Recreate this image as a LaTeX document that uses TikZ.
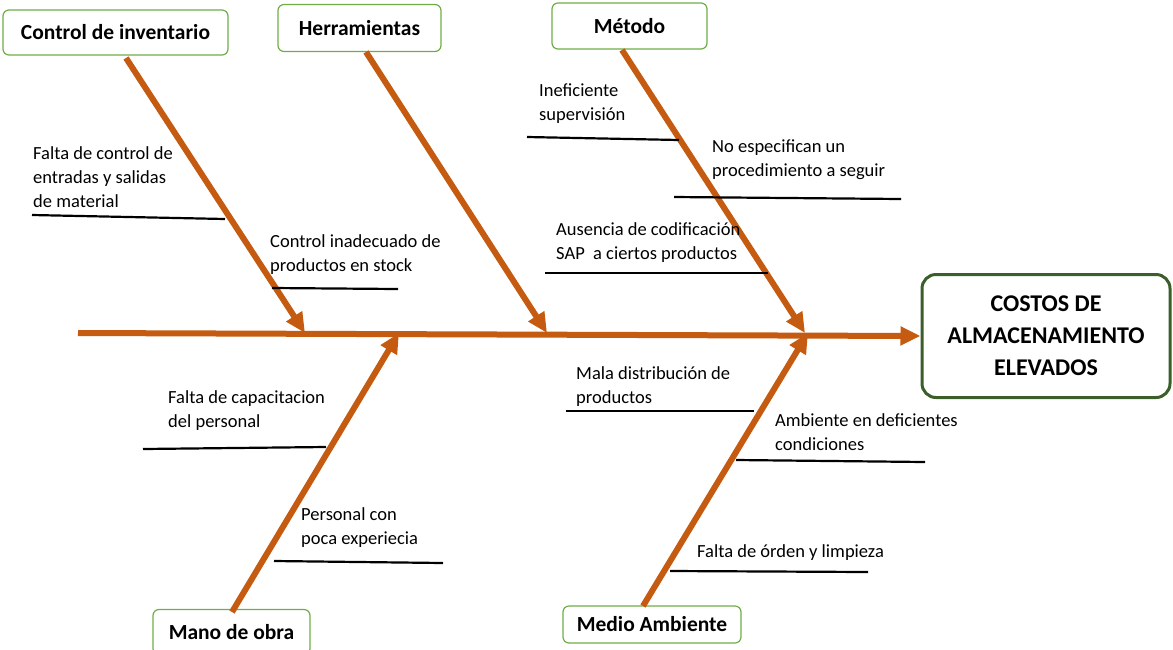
\documentclass[tikz,border=0pt]{standalone}
\usepackage{fontspec}
\setmainfont{Carlito}
\usetikzlibrary{arrows.meta}
\definecolor{bone}{HTML}{C55A11}
\definecolor{boxg}{HTML}{70AD47}
\definecolor{effg}{HTML}{3B5E2B}
\begin{document}
\begin{tikzpicture}[x=1pt,y=-1pt,
 cat/.style={draw=boxg, line width=1.2pt, rounded corners=6pt, fill=white, font=\fontsize{21.5}{25}\selectfont\bfseries, inner sep=0pt},
 eff/.style={draw=effg, line width=3pt, rounded corners=14pt, fill=white, font=\fontsize{24}{32}\selectfont\bfseries, align=center, inner sep=0pt},
 bonel/.style={draw=bone, line width=6pt, -{Triangle[length=20pt,width=18pt,fill=bone]}},
 sub/.style={black, line width=2.2pt},
 lbl/.style={anchor=north west, align=left, inner sep=0pt, font=\fontsize{18.5}{24}\selectfont}]
\useasboundingbox (0,0) rectangle (1173,649);
% category boxes
\node[cat, minimum width=225pt, minimum height=45pt] (ci) at (115.5,32.5) {Control de inventario};
\node[cat, minimum width=163pt, minimum height=47pt] (he) at (359.5,28) {Herramientas};
\node[cat, minimum width=155pt, minimum height=46pt] (me) at (629.5,26) {Método};
\node[cat, minimum width=157pt, minimum height=45pt] (mo) at (231.5,632) {Mano de obra};
\node[cat, minimum width=178pt, minimum height=37pt] (ma) at (652,624.5) {Medio Ambiente};
\node[eff, minimum width=248pt, minimum height=123pt] (ef) at (1046,336) {COSTOS DE\\ALMACENAMIENTO\\ELEVADOS};
% spine
\coordinate (s0) at (78,333);
\draw[bonel] (s0) -- (ef.west);
% bones
\coordinate (b1) at (126,58);  \coordinate (t1) at (305,333);
\coordinate (b2) at (366,52);  \coordinate (t2) at (547,333);
\coordinate (b3) at (622,50);  \coordinate (t3) at (805,333);
\coordinate (b4) at (232,612); \coordinate (t4) at (399,333);
\coordinate (b5) at (643,606); \coordinate (t5) at (808,333);
\draw[bonel] (b1) -- (t1);
\draw[bonel] (b2) -- (t2);
\draw[bonel] (b3) -- (t3);
\draw[bonel] (b4) -- (t4);
\draw[bonel] (b5) -- (t5);
% sub-causes (text nodes placed by top edge of first line)
\draw[sub] (32,215) -- (225,219);
\node[lbl] (l1) at (33,146) {Falta de control de\\entradas y salidas\\de material};
\draw[sub] (272,288) -- (398,289);
\node[lbl] (l2) at (270,234) {Control inadecuado de\\productos en stock};
\draw[sub] (527,137) -- (679,140);
\node[lbl] (l3) at (539,84) {Ineficiente\\supervisión};
\draw[sub] (674,197) -- (901,199);
\node[lbl] (l4) at (712,140) {No especifican un\\procedimiento a seguir};
\draw[sub] (545,273) -- (768,273);
\node[lbl] (l5) at (556,222) {Ausencia de codificación\\SAP\ \ a ciertos productos};
\draw[sub] (143,449) -- (326,447);
\node[lbl] (l6) at (168,390) {Falta de capacitacion\\del personal};
\draw[sub] (274,561) -- (443,563);
\node[lbl] (l7) at (301,507) {Personal con\\poca experiecia};
\draw[sub] (566,411) -- (754,411);
\node[lbl] (l8) at (576,366) {Mala distribución de\\productos};
\draw[sub] (736,460) -- (925,462);
\node[lbl] (l9) at (775,413) {Ambiente en deficientes\\condiciones};
\draw[sub] (670,571) -- (868,572);
\node[lbl] (l10) at (697,544) {Falta de órden y limpieza};
\end{tikzpicture}
\end{document}
